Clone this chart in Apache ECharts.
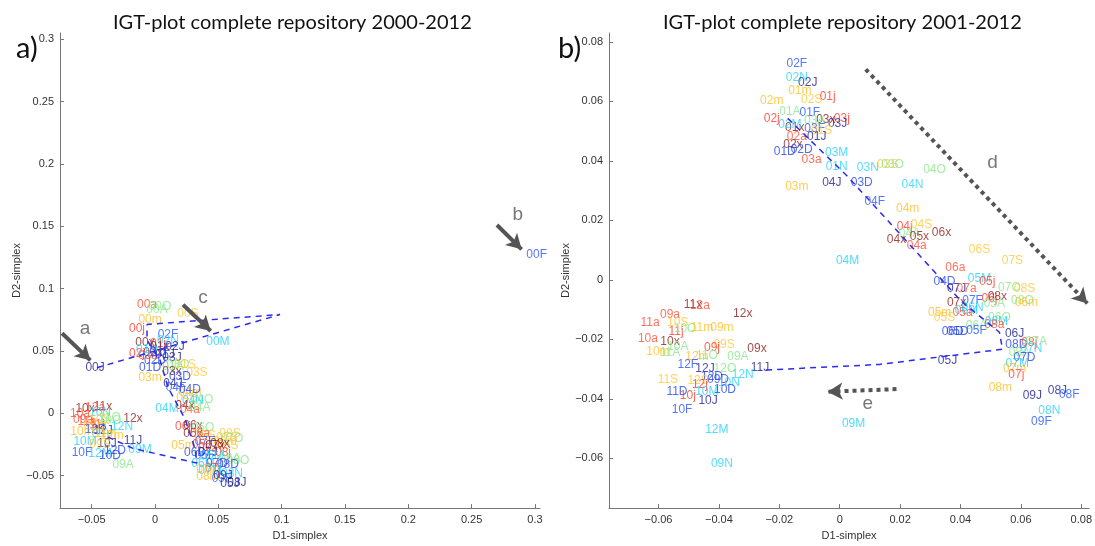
<!DOCTYPE html>
<html>
<head>
<meta charset="utf-8">
<script src="https://cdn.jsdelivr.net/npm/echarts@6/dist/echarts.min.js"></script>
<style>
  html, body { margin: 0; padding: 0; background: #fff; }
  #main { width: 1095px; height: 546px; }
</style>
</head>
<body>
<div id="main"></div>
<script>
// colour per month letter (3rd character of the code)
const monthColors = {
  J: '#20208f', F: '#2b55ff', M: '#25cfff', A: '#88e888', m: '#ffc125', j: '#ff3b2e',
  x: '#8a1c1c', a: '#ff4d36', S: '#ffc83a', O: '#8ce88c', N: '#2ed4ff', D: '#2446e8'
};

// a) 2000-2012 : [code, D1, D2]
const leftLabels = [
  ['00a', -0.0063, 0.0871], ['00O', 0.0039, 0.0855], ['00A', 0.0016, 0.0831], ['00S', 0.0260, 0.0800],
  ['00m', -0.0039, 0.0752], ['00j', -0.0142, 0.0681], ['00M', 0.0497, 0.0578], ['00J', -0.0473, 0.0365],
  ['00F', 0.3014, 0.1273], ['00x', -0.0079, 0.0570], ['01j', 0.0024, 0.0562], ['02F', 0.0103, 0.0634],
  ['02N', 0.0103, 0.0586], ['02J', 0.0158, 0.0531], ['02j', -0.0142, 0.0476], ['02x', -0.0016, 0.0484],
  ['03a', -0.0055, 0.0460], ['03J', 0.0134, 0.0444], ['01N', -0.0063, 0.0507], ['01x', 0.0039, 0.0531],
  ['01F', 0.0039, 0.0492], ['01D', -0.0039, 0.0365], ['01A', 0.0142, 0.0373], ['03O', 0.0181, 0.0389],
  ['01S', 0.0237, 0.0389], ['03S', 0.0331, 0.0326], ['03m', -0.0039, 0.0287], ['03x', 0.0134, 0.0334],
  ['03D', 0.0197, 0.0295], ['04J', 0.0142, 0.0239], ['02D', 0.0000, 0.0421], ['01J', 0.0079, 0.0468],
  ['04m', 0.0276, 0.0168], ['04S', 0.0252, 0.0129], ['04O', 0.0371, 0.0113], ['04N', 0.0300, 0.0105],
  ['04D', 0.0276, 0.0192], ['04F', 0.0166, 0.0208],
  ['04x', 0.0237, 0.0058], ['04M', 0.0095, 0.0034], ['04a', 0.0276, 0.0026], ['04A', 0.0355, 0.0042],
  ['06j', 0.0221, -0.0108], ['06x', 0.0300, -0.0100], ['06O', 0.0379, -0.0116], ['05x', 0.0300, -0.0163],
  ['06S', 0.0395, -0.0179], ['06a', 0.0355, -0.0163], ['07S', 0.0568, -0.0195], ['08S', 0.0592, -0.0163],
  ['07O', 0.0608, -0.0203], ['06m', 0.0553, -0.0226], ['07F', 0.0395, -0.0226], ['05S', 0.0576, -0.0258],
  ['05m', 0.0221, -0.0258], ['08x', 0.0513, -0.0242], ['05j', 0.0355, -0.0250], ['07x', 0.0474, -0.0258],
  ['07a', 0.0418, -0.0281], ['08j', 0.0537, -0.0313], ['06D', 0.0316, -0.0313], ['07J', 0.0418, -0.0313],
  ['05F', 0.0395, -0.0337], ['05M', 0.0450, -0.0337], ['06A', 0.0592, -0.0361], ['08O', 0.0655, -0.0376],
  ['08D', 0.0576, -0.0408], ['06M', 0.0379, -0.0400], ['07D', 0.0489, -0.0400], ['07j', 0.0458, -0.0440],
  ['07m', 0.0418, -0.0455], ['07M', 0.0434, -0.0463], ['08m', 0.0418, -0.0511], ['08N', 0.0608, -0.0487],
  ['09J', 0.0537, -0.0503], ['09F', 0.0529, -0.0526], ['08J', 0.0647, -0.0558], ['05J', 0.0592, -0.0566],
  ['11x', -0.0410, 0.0050], ['10x', -0.0552, 0.0034], ['12a', -0.0473, 0.0042], ['10N', -0.0434, 0.0002],
  ['10a', -0.0592, -0.0006], ['09a', -0.0568, -0.0053], ['12x', -0.0174, -0.0045], ['10S', -0.0434, -0.0053],
  ['10O', -0.0355, -0.0061], ['11O', -0.0355, -0.0037], ['11a', -0.0537, -0.0069], ['11j', -0.0458, -0.0093],
  ['09m', -0.0473, -0.0100], ['12N', -0.0260, -0.0108], ['10m', -0.0576, -0.0148], ['12F', -0.0473, -0.0132],
  ['12J', -0.0410, -0.0140], ['11A', -0.0434, -0.0163], ['11m', -0.0395, -0.0163], ['12m', -0.0339, -0.0179],
  ['11J', -0.0174, -0.0219], ['10M', -0.0552, -0.0226], ['10J', -0.0379, -0.0242], ['09S', -0.0434, -0.0250],
  ['09M', -0.0118, -0.0289], ['12D', -0.0316, -0.0297], ['10F', -0.0576, -0.0313], ['12M', -0.0434, -0.0321],
  ['10D', -0.0355, -0.0337], ['09A', -0.0252, -0.0408]
];

// b) 2001-2012 : [code, D1, D2]
const rightLabels = [
  ['02F', -0.0142, 0.0728], ['02N', -0.0142, 0.0679], ['02J', -0.0106, 0.0662], ['01m', -0.0132, 0.0636],
  ['02m', -0.0225, 0.0603], ['02S', -0.0093, 0.0606], ['01j', -0.0040, 0.0616], ['01A', -0.0165, 0.0566],
  ['01F', -0.0099, 0.0563], ['02j', -0.0225, 0.0543], ['03j', 0.0007, 0.0543], ['03x', -0.0046, 0.0540],
  ['03J', -0.0007, 0.0526], ['03A', -0.0083, 0.0536], ['01x', -0.0149, 0.0513], ['02M', -0.0165, 0.0523],
  ['03F', -0.0083, 0.0510], ['01S', -0.0060, 0.0503], ['01J', -0.0076, 0.0480], ['02a', -0.0142, 0.0480],
  ['02x', -0.0155, 0.0454], ['01D', -0.0182, 0.0431], ['02D', -0.0126, 0.0437], ['03a', -0.0093, 0.0404],
  ['03M', -0.0010, 0.0427], ['01N', -0.0010, 0.0381], ['03N', 0.0093, 0.0378], ['03S', 0.0159, 0.0388],
  ['03O', 0.0175, 0.0388], ['04J', -0.0026, 0.0328], ['03D', 0.0073, 0.0328], ['03m', -0.0142, 0.0312],
  ['04O', 0.0314, 0.0371], ['04N', 0.0241, 0.0321], ['04M', 0.0026, 0.0064], ['04F', 0.0116, 0.0262],
  ['04m', 0.0225, 0.0239], ['04j', 0.0215, 0.0179], ['04S', 0.0271, 0.0186], ['04A', 0.0231, 0.0156],
  ['05x', 0.0264, 0.0146], ['06x', 0.0337, 0.0159], ['04x', 0.0188, 0.0136], ['04a', 0.0255, 0.0116],
  ['06S', 0.0463, 0.0100], ['06a', 0.0383, 0.0040], ['04D', 0.0347, -0.0006], ['07S', 0.0572, 0.0063],
  ['05M', 0.0463, 0.0004], ['05j', 0.0489, -0.0006], ['07J', 0.0387, -0.0029], ['07a', 0.0420, -0.0029],
  ['07O', 0.0562, -0.0026], ['08S', 0.0612, -0.0029], ['07x', 0.0387, -0.0075], ['07F', 0.0440, -0.0069],
  ['06j', 0.0496, -0.0062], ['08x', 0.0522, -0.0056], ['05A', 0.0512, -0.0079], ['08O', 0.0605, -0.0069],
  ['06m', 0.0618, -0.0075], ['06N', 0.0440, -0.0092], ['06M', 0.0420, -0.0105], ['05a', 0.0407, -0.0109],
  ['05m', 0.0331, -0.0109], ['05S', 0.0347, -0.0128], ['06O', 0.0529, -0.0128], ['08M', 0.0519, -0.0142],
  ['06A', 0.0453, -0.0155], ['08a', 0.0512, -0.0151], ['06D', 0.0374, -0.0175], ['05D', 0.0390, -0.0175],
  ['05F', 0.0453, -0.0172], ['06J', 0.0579, -0.0181], ['08D', 0.0585, -0.0217], ['08j', 0.0628, -0.0211],
  ['07A', 0.0651, -0.0208], ['07N', 0.0635, -0.0231], ['08A', 0.0595, -0.0244], ['07D', 0.0612, -0.0261],
  ['05J', 0.0357, -0.0271], ['07M', 0.0588, -0.0280], ['07m', 0.0579, -0.0300], ['07j', 0.0585, -0.0320],
  ['08m', 0.0532, -0.0363], ['09J', 0.0638, -0.0390], ['08J', 0.0721, -0.0373], ['08F', 0.0760, -0.0386],
  ['08N', 0.0694, -0.0439], ['09F', 0.0668, -0.0475], ['09M', 0.0046, -0.0482],
  ['11x', -0.0486, -0.0082], ['12a', -0.0463, -0.0085], ['09a', -0.0562, -0.0118], ['12x', -0.0321, -0.0115],
  ['11a', -0.0628, -0.0145], ['10S', -0.0536, -0.0145], ['11j', -0.0542, -0.0175], ['10O', -0.0512, -0.0165],
  ['11m', -0.0456, -0.0161], ['09m', -0.0390, -0.0161], ['10a', -0.0635, -0.0198], ['10x', -0.0562, -0.0208],
  ['09S', -0.0383, -0.0218], ['09j', -0.0423, -0.0228], ['09x', -0.0274, -0.0231], ['10m', -0.0602, -0.0241],
  ['10A', -0.0536, -0.0224], ['11A', -0.0562, -0.0244], ['12m', -0.0473, -0.0257], ['11O', -0.0440, -0.0254],
  ['09A', -0.0337, -0.0257], ['12F', -0.0503, -0.0284], ['12J', -0.0446, -0.0297], ['12O', -0.0380, -0.0300],
  ['11J', -0.0264, -0.0294], ['12N', -0.0321, -0.0317], ['12D', -0.0423, -0.0326], ['09D', -0.0403, -0.0337],
  ['10N', -0.0367, -0.0347], ['11S', -0.0569, -0.0337], ['12S', -0.0469, -0.0340], ['12j', -0.0463, -0.0353],
  ['11D', -0.0539, -0.0376], ['10j', -0.0503, -0.0390], ['10M', -0.0440, -0.0376], ['10D', -0.0380, -0.0370],
  ['10J', -0.0436, -0.0406], ['10F', -0.0522, -0.0436], ['12M', -0.0407, -0.0505], ['09N', -0.0390, -0.0618]
];

// dashed trajectories
const leftPath = [
  [-0.0458, 0.0366], [0.0987, 0.0792], [-0.0063, 0.0713], [-0.0063, 0.0587], [0.0039, 0.0429],
  [0.0103, 0.0208], [0.0237, -0.0045], [0.0316, -0.0281], [0.0331, -0.0399], [-0.0174, -0.0281],
  [-0.0395, -0.0179]
];
const rightPath = [
  [-0.0172, 0.0543], [0.0023, 0.0351], [0.0403, -0.0072], [0.0529, -0.0176], [0.0539, -0.0233],
  [0.0132, -0.0284], [-0.0264, -0.0304]
];

// annotation arrows [x1, y1, x2, y2] and letters
const leftArrows = [
  [-0.0734, 0.0642, -0.0510, 0.0425],
  [0.0221, 0.0871, 0.0440, 0.0660],
  [0.2700, 0.1510, 0.2895, 0.1315]
];
const leftNotes = [['a', -0.0552, 0.0681], ['b', 0.2865, 0.1590], ['c', 0.0379, 0.0926]];
const rightArrows = [
  [0.0086, 0.0708, 0.0820, -0.0079],
  [0.0188, -0.0367, -0.0040, -0.0376]
];
const rightNotes = [['d', 0.0506, 0.0394], ['e', 0.0093, -0.0416]];

const ticksLeft = [-0.05, 0, 0.05, 0.1, 0.15, 0.2, 0.25, 0.3];
const ticksRight = [-0.06, -0.04, -0.02, 0, 0.02, 0.04, 0.06, 0.08];

const FONT = 'Liberation Sans';
const chart = echarts.init(document.getElementById('main'));

function axis(idx, min, max, ticks, isY, name) {
  return {
    type: 'value', gridIndex: idx, min: min, max: max,
    name: name, nameLocation: 'middle', nameGap: isY ? 37 : 19,
    nameTextStyle: { fontFamily: FONT, fontSize: 11, color: '#333' },
    axisLine: { show: true, onZero: false, lineStyle: { color: '#777', width: 1 } },
    axisTick: { show: true, inside: true, length: 4, customValues: ticks, lineStyle: { color: '#777' } },
    axisLabel: {
      customValues: ticks, margin: 6, fontFamily: FONT, fontSize: 11, color: '#333',
      formatter: v => String(+(+v).toFixed(3)).replace('-', '\u2212')
    },
    splitLine: { show: false }
  };
}

function labelSeries(list, idx) {
  return {
    type: 'scatter', xAxisIndex: idx, yAxisIndex: idx, symbolSize: 1, silent: true, z: 3,
    itemStyle: { color: 'rgba(0,0,0,0)' },
    data: list.map(([c, x, y]) => ({ value: [x, y], name: c, label: { color: monthColors[c[2]] } })),
    label: {
      show: true, position: 'inside', formatter: p => p.name, fontFamily: FONT, fontSize: 12,
      textBorderWidth: 0, textBorderColor: 'transparent'
    }
  };
}

function pathSeries(path, arrows, dotted, idx) {
  return {
    type: 'line', xAxisIndex: idx, yAxisIndex: idx, data: path, symbol: 'none', silent: true, z: 4,
    lineStyle: { color: '#2b2bf0', width: 1.5, type: [6, 5] },
    markLine: {
      silent: true, symbol: ['none', 'arrow'], symbolSize: [13, 15],
      label: { show: false },
      lineStyle: dotted
        ? { color: '#555', width: 4, type: [4, 4], cap: 'butt' }
        : { color: '#555', width: 4, type: 'solid' },
      data: arrows.map(a => [{ coord: [a[0], a[1]] }, { coord: [a[2], a[3]] }])
    }
  };
}

function noteSeries(notes, idx) {
  return {
    type: 'scatter', xAxisIndex: idx, yAxisIndex: idx, symbolSize: 1, silent: true, z: 5,
    itemStyle: { color: 'rgba(0,0,0,0)' },
    data: notes.map(n => ({ value: [n[1], n[2]], name: n[0] })),
    label: {
      show: true, position: 'inside', formatter: p => p.name, fontFamily: FONT, fontSize: 19, color: '#555',
      textBorderWidth: 0, textBorderColor: 'transparent'
    }
  };
}

chart.setOption({
  backgroundColor: '#fff',
  animation: false,
  title: [
    { text: 'IGT-plot complete repository 2000-2012', left: 108, top: 8,
      textStyle: { fontFamily: 'Lato', fontSize: 20, fontWeight: 'normal', color: '#111' } },
    { text: 'IGT-plot complete repository 2001-2012', left: 658, top: 8,
      textStyle: { fontFamily: 'Lato', fontSize: 20, fontWeight: 'normal', color: '#111' } },
    { text: 'a)', left: 11, top: 29, textStyle: { fontFamily: 'Lato', fontSize: 29, fontWeight: 'normal', color: '#111' } },
    { text: 'b)', left: 553, top: 29, textStyle: { fontFamily: 'Lato', fontSize: 29, fontWeight: 'normal', color: '#111' } }
  ],
  grid: [
    { left: 60, top: 33, width: 480, height: 483 },
    { left: 609, top: 33, width: 481, height: 483 }
  ],
  xAxis: [
    axis(0, -0.075, 0.304, ticksLeft, false, 'D1-simplex'),
    axis(1, -0.0764, 0.0826, ticksRight, false, 'D1-simplex')
  ],
  yAxis: [
    axis(0, -0.076, 0.305, ticksLeft, true, 'D2-simplex'),
    axis(1, -0.0767, 0.083, ticksRight, true, 'D2-simplex')
  ],
  series: [
    pathSeries(leftPath, leftArrows, false, 0),
    labelSeries(leftLabels, 0),
    noteSeries(leftNotes, 0),
    pathSeries(rightPath, rightArrows, true, 1),
    labelSeries(rightLabels, 1),
    noteSeries(rightNotes, 1)
  ]
});
</script>
</body>
</html>
